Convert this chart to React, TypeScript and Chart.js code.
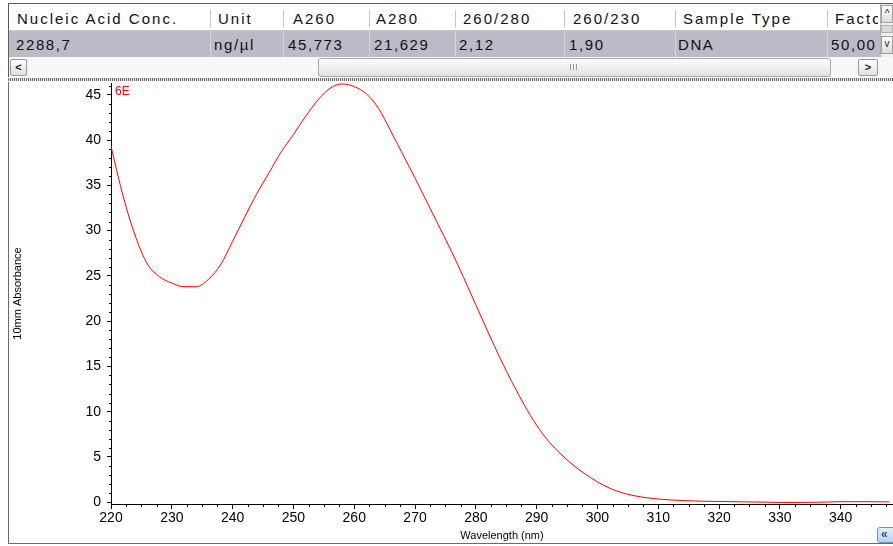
import { useEffect, useRef } from 'react';
import { Chart, registerables } from 'chart.js';

Chart.register(...registerables);

// ---- data ----
const wavelengths = [
  220, 222, 224, 226, 228, 230, 232, 234, 236, 238, 240, 242, 244, 246, 248, 250,
  252, 254, 256, 258, 260, 262, 264, 266, 268, 270, 272, 274, 276, 278, 280, 282,
  284, 286, 288, 290, 292, 294, 296, 298, 300, 302, 304, 306, 308, 310, 312, 314,
  316, 318, 320, 322, 324, 326, 328, 330, 332, 334, 336, 338, 340, 342, 344, 346, 348,
];
const absorbance = [
  39.3, 33.8, 29.4, 26.3, 24.9, 24.2, 23.8, 23.8, 24.6, 26.2, 28.8, 31.5, 34.1, 36.4, 38.7, 40.6,
  42.6, 44.4, 45.7, 46.2, 45.9, 45.1, 43.5, 41.0, 38.4, 35.8, 33.1, 30.4, 27.7, 24.8, 21.8, 18.8,
  15.9, 13.2, 10.7, 8.5, 6.7, 5.3, 4.1, 3.1, 2.25, 1.55, 1.05, 0.72, 0.5, 0.35, 0.25, 0.18,
  0.13, 0.1, 0.08, 0.06, 0.04, 0.02, 0.0, -0.03, -0.03, -0.02, -0.01, 0.02, 0.06, 0.05, 0.06, 0.04, 0.03,
];
const xTickValues = [220, 230, 240, 250, 260, 270, 280, 290, 300, 310, 320, 330, 340];
const yTickValues = [0, 5, 10, 15, 20, 25, 30, 35, 40, 45];
const sampleName = '6E';

const headers = ['Nucleic Acid Conc.', 'Unit', 'A260', 'A280', '260/280', '260/230', 'Sample Type', 'Factor'];
const rowValues = ['2288,7', 'ng/µl', '45,773', '21,629', '2,12', '1,90', 'DNA', '50,00'];

// ---- layout of the table (pixels) ----
const colSeps = [210, 283, 369, 455, 564, 675, 827];
const headerLefts = [17, 218, 293, 376, 463, 573, 683, 835];
const valueLefts = [16, 214, 288, 374, 459, 569, 678, 831];
const colRights = [210, 283, 369, 455, 564, 675, 827, 878];

const FONT = '"Liberation Sans", Arial, sans-serif';

const overlayPlugin = {
  id: 'overlay',
  afterDraw(chart: any) {
    const { ctx, chartArea } = chart;
    const x = chart.scales.x;
    const y = chart.scales.y;
    ctx.save();
    ctx.strokeStyle = '#000';
    ctx.lineWidth = 1;
    ctx.beginPath();
    // minor y ticks every 1 unit
    for (let v = Math.ceil(y.min); v <= y.max; v++) {
      if (v % 5 === 0) continue;
      const py = Math.round(y.getPixelForValue(v)) + 0.5;
      ctx.moveTo(chartArea.left - 2, py);
      ctx.lineTo(chartArea.left, py);
    }
    // minor x ticks every 2.5 nm
    for (let v = 222.5; v < x.max; v += 2.5) {
      if (Math.abs(v % 10) < 1e-6) continue;
      const px = Math.round(x.getPixelForValue(v)) + 0.5;
      ctx.moveTo(px, chartArea.bottom);
      ctx.lineTo(px, chartArea.bottom + 3);
    }
    ctx.stroke();
    ctx.fillStyle = '#ff0000';
    ctx.font = '12px ' + FONT;
    ctx.textBaseline = 'middle';
    ctx.textAlign = 'left';
    ctx.fillText(sampleName, chartArea.left + 4, chartArea.top + 9);
    ctx.restore();
  },
};

function ChartPanel() {
  const ref = useRef<HTMLCanvasElement>(null);
  useEffect(() => {
    const canvas = ref.current!;
    Chart.defaults.font.family = FONT;
    const chart = new Chart(canvas, {
      type: 'line',
      data: {
        datasets: [
          {
            data: wavelengths.map((w, i) => ({ x: w, y: absorbance[i] })),
            borderColor: '#ff0000',
            borderWidth: 1,
            pointRadius: 0,
            cubicInterpolationMode: 'monotone',
            fill: false,
          },
        ],
      },
      options: {
        animation: false,
        responsive: false,
        devicePixelRatio: 1,
        layout: { padding: { top: 1, left: 0, right: 0, bottom: 0 } },
        plugins: { legend: { display: false }, tooltip: { enabled: false } },
        scales: {
          x: {
            type: 'linear',
            min: 220,
            max: 348.6,
            afterBuildTicks: (s: any) => {
              s.ticks = xTickValues.map((v) => ({ value: v }));
            },
            afterFit: (s: any) => {
              s.height = 39;
              s.paddingLeft = 0;
              s.paddingRight = 0;
            },
            grid: { drawOnChartArea: false, drawTicks: true, tickLength: 5, color: '#000' },
            border: { display: true, color: '#000', width: 1 },
            ticks: { color: '#000', font: { size: 14 }, padding: 1, maxRotation: 0, autoSkip: false },
            title: {
              display: true,
              text: 'Wavelength (nm)',
              color: '#000',
              font: { size: 11 },
              padding: { top: 0, bottom: 0 },
            },
          },
          y: {
            type: 'linear',
            min: -0.2,
            max: 46.3,
            afterBuildTicks: (s: any) => {
              s.ticks = yTickValues.map((v) => ({ value: v }));
            },
            afterFit: (s: any) => {
              s.width = 102;
              s.paddingTop = 0;
              s.paddingBottom = 0;
            },
            grid: { drawOnChartArea: false, drawTicks: true, tickLength: 4, color: '#000' },
            border: { display: true, color: '#000', width: 1 },
            ticks: { color: '#000', font: { size: 14 }, padding: 6, autoSkip: false },
            title: {
              display: true,
              text: '10mm Absorbance',
              color: '#000',
              font: { size: 11 },
              padding: { top: 2, bottom: 0 },
            },
          },
        },
      },
      plugins: [overlayPlugin],
    } as any);
    return () => chart.destroy();
  }, []);
  return (
    <canvas
      ref={ref}
      width={884}
      height={461}
      style={{ position: 'absolute', left: 9, top: 82, width: 884, height: 461, display: 'block' }}
    />
  );
}

const abs = (s: any) => ({ position: 'absolute' as const, ...s });

export default function App() {
  return (
    <div style={abs({ left: 0, top: 0, width: 893, height: 546, overflow: 'hidden', background: '#fff', fontFamily: FONT })}>
      {/* table frame */}
      <div style={abs({ left: 8, top: 3, width: 890, height: 1, background: '#5a5a5a' })} />
      <div style={abs({ left: 8, top: 3, width: 1, height: 74, background: '#5a5a5a' })} />
      {/* header row */}
      <div style={abs({ left: 9, top: 4, width: 871, height: 27, background: '#fff', borderBottom: '1px solid #c9c9d0', boxSizing: 'border-box' })} />
      {/* data row */}
      <div style={abs({ left: 9, top: 31, width: 871, height: 26, background: '#babbc6' })} />
      {colSeps.map((x, i) => (
        <div key={'hs' + i} style={abs({ left: x, top: 10, width: 1, height: 18, background: '#c8c8c8' })} />
      ))}
      {colSeps.map((x, i) => (
        <div key={'ds' + i} style={abs({ left: x, top: 31, width: 1, height: 26, background: '#d6d7de' })} />
      ))}
      {headers.map((h, i) => (
        <div
          key={'h' + i}
          style={abs({
            left: headerLefts[i],
            top: 9,
            width: colRights[i] - headerLefts[i],
            height: 20,
            overflow: 'hidden',
            whiteSpace: 'nowrap',
            fontSize: 15,
            lineHeight: '20px',
            letterSpacing: '2px',
            color: '#111',
          })}
        >
          {h}
        </div>
      ))}
      {rowValues.map((v, i) => (
        <div
          key={'v' + i}
          style={abs({
            left: valueLefts[i],
            top: 35,
            width: colRights[i] - valueLefts[i],
            height: 20,
            overflow: 'hidden',
            whiteSpace: 'nowrap',
            fontSize: 15,
            lineHeight: '20px',
            letterSpacing: '1.6px',
            color: '#111',
          })}
        >
          {v}
        </div>
      ))}
      {/* vertical scrollbar at right */}
      <div style={abs({ left: 880, top: 4, width: 13, height: 53, background: '#f0f0f0', borderLeft: '1px solid #b0b0b0', boxSizing: 'border-box' })} />
      <div style={abs({ left: 881, top: 5, width: 12, height: 18, background: 'linear-gradient(#fff,#dcdcdc)', border: '1px solid #a0a0a0', boxSizing: 'border-box', fontSize: 10, lineHeight: '16px', textAlign: 'center', color: '#222' })}>^</div>
      <div style={abs({ left: 881, top: 25, width: 12, height: 8, background: '#d8d8d8', border: '1px solid #b0b0b0', boxSizing: 'border-box' })} />
      <div style={abs({ left: 881, top: 36, width: 12, height: 18, background: 'linear-gradient(#fff,#dcdcdc)', border: '1px solid #a0a0a0', boxSizing: 'border-box', fontSize: 10, lineHeight: '14px', textAlign: 'center', color: '#222' })}>v</div>
      {/* horizontal scrollbar */}
      <div style={abs({ left: 9, top: 57, width: 884, height: 20, background: '#f7f7f7' })} />
      <div style={abs({ left: 10, top: 59, width: 17, height: 17, background: 'linear-gradient(#fff,#e0e0e0)', border: '1px solid #9a9a9a', borderRadius: 2, boxSizing: 'border-box', fontSize: 11, fontWeight: 'bold', lineHeight: '15px', textAlign: 'center', color: '#222' })}>&lt;</div>
      <div style={abs({ left: 318, top: 58, width: 513, height: 19, background: 'linear-gradient(#fdfdfd,#e2e2e4)', border: '1px solid #a8a8a8', borderRadius: 3, boxSizing: 'border-box' })} />
      <div style={abs({ left: 570, top: 64, width: 1, height: 6, background: '#999' })} />
      <div style={abs({ left: 573, top: 64, width: 1, height: 6, background: '#999' })} />
      <div style={abs({ left: 576, top: 64, width: 1, height: 6, background: '#999' })} />
      <div style={abs({ left: 858, top: 59, width: 20, height: 17, background: 'linear-gradient(#fff,#e0e0e0)', border: '1px solid #9a9a9a', borderRadius: 2, boxSizing: 'border-box', fontSize: 11, fontWeight: 'bold', lineHeight: '15px', textAlign: 'center', color: '#222' })}>&gt;</div>
      {/* dotted separator */}
      <div style={abs({ left: 8, top: 78, width: 885, height: 3, backgroundImage: 'repeating-linear-gradient(90deg,#6a6a6a 0 1px,#e8e8e8 1px 2px)' })} />
      {/* chart panel border */}
      <div style={abs({ left: 8, top: 82, width: 1, height: 462, background: '#6a6a6a' })} />
      <div style={abs({ left: 8, top: 543, width: 885, height: 1, background: '#6a6a6a' })} />
      <ChartPanel />
      {/* small button at bottom right */}
      <div style={abs({ left: 877, top: 527, width: 24, height: 16, background: 'linear-gradient(#e6f0fa,#b9d2ea)', border: '1px solid #6f93b8', borderRadius: 3, boxSizing: 'border-box', fontSize: 12, fontWeight: 'bold', lineHeight: '13px', color: '#1d4f86', paddingLeft: 3 })}>«</div>
    </div>
  );
}
